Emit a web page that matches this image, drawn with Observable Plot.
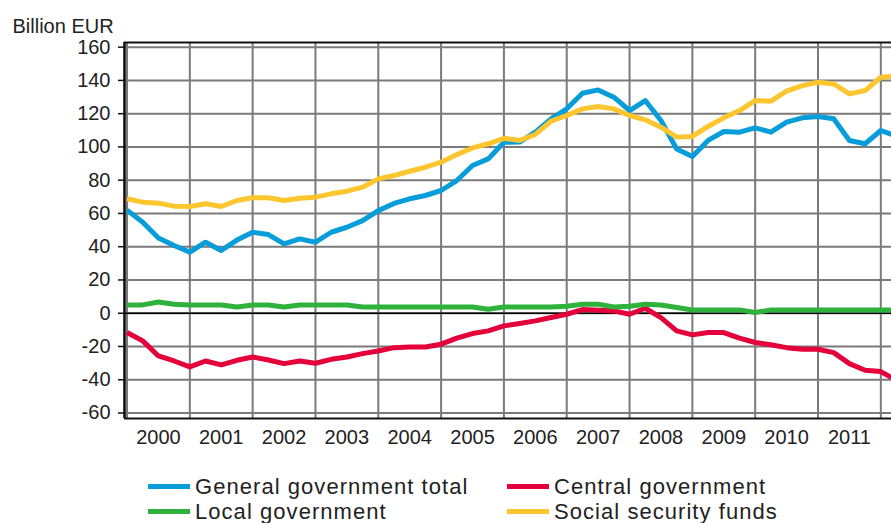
<!DOCTYPE html>
<html>
<head>
<meta charset="utf-8">
<script src="https://cdn.jsdelivr.net/npm/d3@7"></script>
<script src="https://cdn.jsdelivr.net/npm/@observablehq/plot@0.6"></script>
<style>
  html, body { margin: 0; padding: 0; background: #fff; }
  #wrap { position: relative; width: 891px; height: 523px; overflow: hidden; font-family: "Liberation Sans", Arial, sans-serif; }
  #legend { position: absolute; left: 0; top: 0; width: 891px; height: 523px; pointer-events: none; }
  .item { position: absolute; font-size: 22px; letter-spacing: 1.05px; color: #222; line-height: 25px; white-space: nowrap; }
  .sw { position: absolute; height: 5px; }
</style>
</head>
<body>
<div id="wrap"><div id="chart"></div><div id="legend"></div></div>
<script>
// Quarterly time points, 2000Q1 .. 2012Q1 and the right edge of the chart
const years = [2000, 2001, 2002, 2003, 2004, 2005, 2006, 2007, 2008, 2009, 2010, 2011];
const time = [];
for (const y of years) for (let q = 0; q < 4; q++) time.push(y + q / 4);
time.push(2012, 2012.17);

const seriesNames = ["General government total", "Central government", "Local government", "Social security funds"];
const seriesColors = ["#079ddb", "#e4003b", "#2eb23c", "#fdc62f"];

const generalTotal = [62, 54.7, 45.3, 40.7, 36.7, 42.7, 37.7, 44, 48.7, 47.3, 41.7, 44.7,
  42.7, 48.7, 51.7, 55.7, 61.7, 66, 68.8, 70.8, 73.8, 79.8, 88.8, 92.8,
  102.8, 102.9, 108.9, 116.9, 122.9, 132.3, 134.3, 129.9, 121.9, 127.9, 115.9, 98.8,
  94.2, 103.9, 109.3, 108.9, 111.5, 108.9, 114.9, 117.5, 118.3, 116.9, 103.9, 101.9,
  109.9, 107.5];
const centralGov = [-11.6, -16.6, -25.7, -28.7, -32.3, -28.7, -31.1, -28.3, -26.3, -28.1, -30.3, -28.7,
  -30.1, -27.7, -26.3, -24.3, -22.7, -20.7, -20.3, -20.3, -18.6, -15, -12.2, -10.6,
  -7.6, -6.2, -4.6, -2.6, -0.6, 2.2, 1.8, 1.4, -0.6, 3, -2.6, -10.6,
  -13, -11.6, -11.6, -15, -17.6, -19, -20.7, -21.7, -21.7, -23.7, -30.3, -34.3,
  -35.1, -38.7];
const localGov = [5, 5, 6.8, 5.4, 5, 5, 5, 3.8, 5, 5, 3.8, 5,
  5, 5, 5, 3.8, 3.8, 3.8, 3.8, 3.8, 3.8, 3.8, 3.8, 2.4,
  3.8, 3.8, 3.8, 3.8, 4.2, 5.4, 5.4, 3.8, 4.2, 5.4, 5, 3.4,
  2, 2, 2, 2, 0.4, 2, 2, 2, 2, 2, 2, 2,
  2, 2];
const socialSecurity = [68.8, 66.8, 66.2, 64.4, 64.2, 65.8, 64.2, 67.8, 69.4, 69.4, 67.8, 69.2,
  69.8, 71.8, 73.4, 75.8, 80.8, 82.8, 85.4, 87.8, 90.8, 95.4, 99.4, 101.9,
  105.2, 103.9, 107.5, 115.5, 118.9, 122.9, 124.3, 122.9, 118.9, 116.3, 111.9, 105.9,
  106.3, 112.3, 117.5, 121.9, 127.9, 127.5, 133.5, 136.9, 138.9, 137.9, 131.9, 133.9,
  141.9, 142.4];

const yTicks = [-60, -40, -20, 0, 20, 40, 60, 80, 100, 120, 140, 160];
const yearBounds = [...years, 2012];
const yDomain = [-63.3, 162.8];
const xDomain = [1999.96, 2012.17];
const unitLabel = "Billion EUR";

const allValues = [generalTotal, centralGov, localGov, socialSecurity];
const rows = [];
allValues.forEach((vals, si) => vals.forEach((v, i) => rows.push({t: time[i], v, s: seriesNames[si]})));

const chart = Plot.plot({
  width: 891,
  height: 460,
  marginTop: 42,
  marginBottom: 42,
  marginLeft: 124,
  marginRight: 0,
  style: {fontFamily: "'Liberation Sans', Arial, sans-serif", fontSize: "20px", color: "#222", background: "#fff"},
  x: {domain: xDomain, axis: null},
  y: {domain: yDomain, axis: null},
  color: {domain: seriesNames, range: seriesColors},
  marks: [
    Plot.ruleX(yearBounds, {stroke: "#7a7a7a", strokeWidth: 2}),
    Plot.ruleY(yTicks, {stroke: "#7a7a7a", strokeWidth: 2}),
    Plot.ruleY([0], {stroke: "#000", strokeWidth: 1.6}),
    Plot.line(rows, {x: "t", y: "v", z: "s", stroke: "s", strokeWidth: 5, strokeLinejoin: "round", strokeLinecap: "butt", clip: true}),
    Plot.ruleY([yDomain[1]], {stroke: "#111", strokeWidth: 2.2}),
    Plot.ruleY([yDomain[0]], {stroke: "#111", strokeWidth: 2.2}),
    Plot.ruleX([xDomain[0]], {stroke: "#111", strokeWidth: 2.6}),
    Plot.axisY(yTicks, {anchor: "left", tickSize: 6, tickPadding: 8, stroke: "#111", strokeWidth: 1.5, fill: "#222", label: null, tickFormat: d => String(d)}),
    Plot.axisX(years.map(y => y + 0.5), {anchor: "bottom", tickSize: 0, tickPadding: 11, tickFormat: d => String(Math.floor(d)), fill: "#222", label: null}),
    Plot.text([unitLabel], {frameAnchor: "top-left", dx: -112, dy: -10, textAnchor: "start", lineAnchor: "bottom", fill: "#222", fontSize: 20})
  ]
});
document.getElementById("chart").appendChild(chart);

// Legend
const legend = document.getElementById("legend");
const legendPos = [
  {sx: 148, tx: 195, y: 474},
  {sx: 507, tx: 554, y: 474},
  {sx: 148, tx: 195, y: 499},
  {sx: 507, tx: 554, y: 499}
];
seriesNames.forEach((name, i) => {
  const p = legendPos[i];
  const sw = document.createElement("div");
  sw.className = "sw";
  sw.style.left = p.sx + "px";
  sw.style.width = "42px";
  sw.style.top = (p.y + 10) + "px";
  sw.style.background = seriesColors[i];
  legend.appendChild(sw);
  const tx = document.createElement("div");
  tx.className = "item";
  tx.style.left = p.tx + "px";
  tx.style.top = p.y + "px";
  tx.textContent = name;
  legend.appendChild(tx);
});
</script>
</body>
</html>
